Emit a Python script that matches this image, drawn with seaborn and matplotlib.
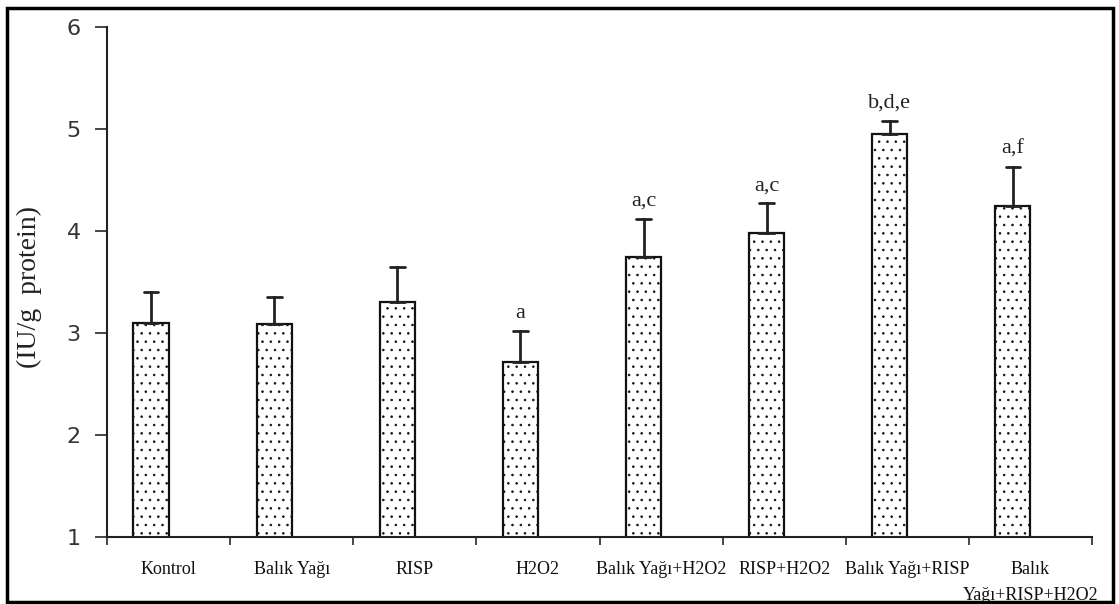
import numpy as np
import pandas as pd
import seaborn as sns
import matplotlib
matplotlib.use("Agg")
import matplotlib.pyplot as plt
from matplotlib.patches import Rectangle
from matplotlib.transforms import Affine2D

# ---- data ----
categories = ["Kontrol", "Balık Yağı", "RISP", "H2O2", "Balık Yağı+H2O2",
              "RISP+H2O2", "Balık Yağı+RISP", "Balık\nYağı+RISP+H2O2"]
means = [3.10, 3.09, 3.30, 2.72, 3.75, 3.98, 4.95, 4.25]
sds = [0.30, 0.26, 0.35, 0.30, 0.37, 0.29, 0.13, 0.38]
letters = ["", "", "", "a", "a,c", "a,c", "b,d,e", "a,f"]
y_ticks = [1, 2, 3, 4, 5, 6]

# long table: one row at the mean and one at mean+sd per group,
# bar = min, error bar = (min, max)
rows = []
for c, m, s in zip(categories, means, sds):
    rows.append({"group": c, "value": m})
    rows.append({"group": c, "value": m + s})
df = pd.DataFrame(rows)

sns.set_theme(style="white")
plt.rcParams["hatch.linewidth"] = 0.6

fig = plt.figure(figsize=(11.19, 6.04), dpi=100)
ax = fig.add_axes([107 / 1119, 1 - 537 / 604, 985 / 1119, 510 / 604])

BAR_W = 0.285
SHIFT = -BAR_W / 2  # bars sit in the left half of each category slot

sns.barplot(data=df, x="group", y="value", order=categories, estimator="min",
            errorbar=lambda v: (v.min(), v.max()),
            width=BAR_W, capsize=0.12,
            color="white", edgecolor="black", linewidth=1.6,
            err_kws={"color": "#222222", "linewidth": 2.0}, ax=ax)

shift_tr = Affine2D().translate(SHIFT, 0) + ax.transData
for p in ax.patches:
    p.set_facecolor("white")
    p.set_edgecolor("#111111")
    p.set_hatch("..")
    p.set_linewidth(1.6)
    p.set_transform(shift_tr)
for ln in ax.lines:
    ln.set_transform(shift_tr)

ax.set_ylim(1, 6)
ax.set_xlim(-0.5, len(categories) - 0.5)
ax.set_yticks(y_ticks)
ax.set_yticklabels([str(t) for t in y_ticks], fontsize=16, color="#333333",
                   family="DejaVu Sans")
ax.tick_params(axis="y", direction="out", length=9, width=1.2, pad=10, left=True)

ax.set_xticks(np.arange(-0.5, len(categories), 1.0))
ax.set_xticklabels([""] * (len(categories) + 1))
ax.tick_params(axis="x", which="major", direction="out", length=6, width=1.2, bottom=True)
ax.set_xticks(range(len(categories)), minor=True)
ax.set_xticklabels(categories, minor=True, fontsize=13,
                   family="Liberation Serif", color="#111111")
ax.tick_params(axis="x", which="minor", length=0, pad=17)
for lab in ax.get_xticklabels(minor=True):
    lab.set_linespacing(1.7)

for side in ["top", "right"]:
    ax.spines[side].set_visible(False)
for side in ["left", "bottom"]:
    ax.spines[side].set_color("#222222")
    ax.spines[side].set_linewidth(1.5)

ax.set_xlabel("")
ax.set_ylabel("(IU/g  protein)", fontsize=20, family="Liberation Serif", color="#222222")
ax.yaxis.set_label_coords(-0.066, 0.49)

bars = [p for p in ax.patches if p.get_height() > 0]
for p, m, s, t in zip(bars, means, sds, letters):
    if t:
        ax.annotate(t, (p.get_x() + p.get_width() / 2 + SHIFT, m + s),
                    xytext=(0, 6), textcoords="offset points",
                    ha="center", va="bottom", fontsize=16,
                    family="Liberation Serif", color="#222222")

fig.patches.append(Rectangle((7 / 1119, 2 / 604), 1106 / 1119, 594 / 604,
                             transform=fig.transFigure, fill=False,
                             edgecolor="black", linewidth=2.5))

fig.savefig("out.png", dpi=100)
